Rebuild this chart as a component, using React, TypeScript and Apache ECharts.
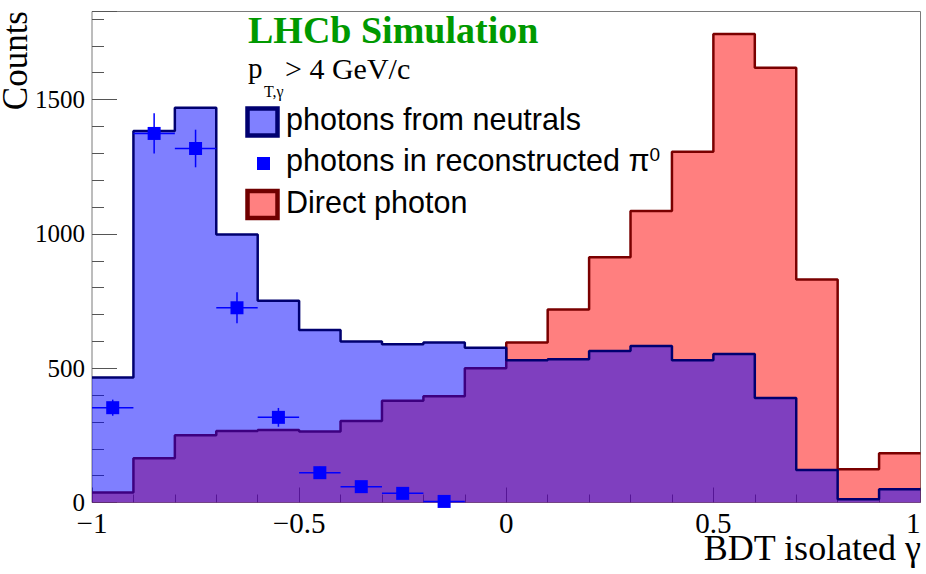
import React, { useEffect, useRef } from "react";
import * as echarts from "echarts";

// ---- data ----
const binEdges = [
  -1, -0.9, -0.8, -0.7, -0.6, -0.5, -0.4, -0.3, -0.2, -0.1, 0,
  0.1, 0.2, 0.3, 0.4, 0.5, 0.6, 0.7, 0.8, 0.9, 1,
];
const neutralsCounts = [
  465, 1383, 1470, 998, 751, 642, 599, 589, 596, 576,
  530, 533, 564, 583, 530, 553, 389, 121, 12, 49,
];
const directCounts = [
  37, 165, 250, 266, 270, 264, 303, 379, 396, 500,
  596, 719, 913, 1085, 1306, 1744, 1619, 830, 124, 183,
];
const pi0Centers = [-0.95, -0.85, -0.75, -0.65, -0.55, -0.45, -0.35, -0.25, -0.15];
const pi0Counts = [353, 1374, 1318, 725, 317, 111, 59, 34, 4];
const pi0Errors = [30, 75, 70, 58, 35, 22, 16, 12, 5];
const pi0HalfWidth = 0.05;

const X_MIN = -1;
const X_MAX = 1;
const Y_MIN = 0;
const Y_MAX = 1828;

const SERIF = "'Liberation Serif', 'DejaVu Serif', serif";
const SANS = "'Liberation Sans', Arial, sans-serif";

function stepData(values: number[]) {
  const pts: number[][] = values.map((v, i) => [binEdges[i], v]);
  pts.push([binEdges[values.length], values[values.length - 1]]);
  return pts;
}

const fmtMinus = (v: number) => String(v).replace("-", "\u2212");

export default function App() {
  const ref = useRef<HTMLDivElement>(null);

  useEffect(() => {
    if (!ref.current) return;
    const chart = echarts.init(ref.current, null, { renderer: "svg" });

    const pi0Data = pi0Centers.map((c, i) => [c, pi0Counts[i], pi0Errors[i]]);

    const txt = (extra: any) => ({
      fill: "#000",
      align: "left",
      textAlign: "left",
      verticalAlign: "middle",
      textVerticalAlign: "middle",
      ...extra,
    });

    const option: any = {
      animation: false,
      backgroundColor: "#ffffff",
      grid: {
        left: 92,
        right: 5.5,
        top: 11.5,
        bottom: 71.5,
        show: true,
        borderColor: "#7a7a7a",
        borderWidth: 1,
        backgroundColor: "transparent",
      },
      xAxis: {
        type: "value",
        min: X_MIN,
        max: X_MAX,
        interval: 0.5,
        axisLine: { show: false, onZero: false },
        splitLine: { show: false },
        axisTick: { show: true, inside: true, length: 15, lineStyle: { color: "#555", width: 1 } },
        minorTick: { show: true, splitNumber: 5, length: 8, lineStyle: { color: "#555", width: 1 } },
        minorSplitLine: { show: false },
        axisLabel: {
          margin: 6,
          fontFamily: SERIF,
          fontSize: 29,
          color: "#000",
          formatter: (v: number) => fmtMinus(v),
          alignMaxLabel: "right",
        },
      },
      yAxis: [
        {
          type: "value",
          position: "left",
          offset: 0,
          min: Y_MIN,
          max: Y_MAX,
          interval: 100,
          axisLine: { show: false, onZero: false },
          splitLine: { show: false },
          axisTick: { show: true, inside: true, length: 12, lineStyle: { color: "#555", width: 1 } },
          axisLabel: { show: false },
        },
        {
          type: "value",
          position: "left",
          offset: 0,
          min: Y_MIN,
          max: Y_MAX,
          interval: 500,
          axisLine: { show: false, onZero: false },
          splitLine: { show: false },
          axisTick: { show: true, inside: true, length: 25, lineStyle: { color: "#555", width: 1 } },
          axisLabel: {
            margin: 7,
            fontFamily: SERIF,
            fontSize: 25,
            color: "#000",
            formatter: (v: number) => (v % 500 === 0 ? String(v) : ""),
          },
        },
      ],
      series: [
        {
          name: "Direct photon",
          type: "line",
          step: "end",
          symbol: "none",
          showSymbol: false,
          data: stepData(directCounts),
          lineStyle: { color: "#7a0000", width: 2.5 },
          areaStyle: { color: "rgba(255,0,0,0.5)", opacity: 1 },
          z: 2,
        },
        {
          name: "photons from neutrals",
          type: "line",
          step: "end",
          symbol: "none",
          showSymbol: false,
          data: stepData(neutralsCounts),
          lineStyle: { color: "#000070", width: 2.5 },
          areaStyle: { color: "rgba(0,0,255,0.5)", opacity: 1 },
          z: 3,
        },
        {
          name: "photons in reconstructed pi0",
          type: "custom",
          data: pi0Data,
          encode: { x: 0, y: 1 },
          z: 4,
          renderItem: (params: any, api: any) => {
            const x = api.value(0);
            const y = api.value(1);
            const e = api.value(2);
            const c = api.coord([x, y]);
            const l = api.coord([x - pi0HalfWidth, y]);
            const r = api.coord([x + pi0HalfWidth, y]);
            const t = api.coord([x, y + e]);
            const b = api.coord([x, Math.max(0, y - e)]);
            const s = 13;
            return {
              type: "group",
              children: [
                { type: "line", shape: { x1: l[0], y1: l[1], x2: r[0], y2: r[1] }, style: { stroke: "#0000ff", lineWidth: 1.5 } },
                { type: "line", shape: { x1: t[0], y1: t[1], x2: b[0], y2: b[1] }, style: { stroke: "#0000ff", lineWidth: 1.5 } },
                { type: "rect", shape: { x: c[0] - s / 2, y: c[1] - s / 2, width: s, height: s }, style: { fill: "#0000ff" } },
              ],
            };
          },
        },
      ],
      graphic: [
        // y-axis title
        {
          type: "text",
          x: 15,
          y: 11,
          rotation: Math.PI / 2,
          style: txt({
            text: "Counts",
            fontFamily: SERIF,
            fontSize: 35,
            align: "right",
            textAlign: "right",
          }),
        },
        // x-axis title
        {
          type: "text",
          x: 921,
          y: 548,
          style: txt({
            text: "BDT isolated \u03b3",
            fontFamily: SERIF,
            fontSize: 36,
            align: "right",
            textAlign: "right",
          }),
        },
        // LHCb Simulation
        {
          type: "text",
          x: 248,
          y: 29.5,
          style: txt({
            text: "LHCb Simulation",
            fontFamily: SERIF,
            fontWeight: "bold",
            fontSize: 38,
            fill: "#009900",
          }),
        },
        // p_T,gamma > 4 GeV/c
        {
          type: "text",
          x: 248,
          y: 68,
          style: txt({ text: "p", fontFamily: SERIF, fontSize: 29 }),
        },
        {
          type: "text",
          x: 264,
          y: 91.5,
          style: txt({ text: "T,\u03b3", fontFamily: SERIF, fontSize: 16 }),
        },
        {
          type: "text",
          x: 285,
          y: 68,
          style: txt({ text: "> 4 GeV/c", fontFamily: SERIF, fontSize: 30 }),
        },
        // legend entry 1
        {
          type: "rect",
          shape: { x: 247.5, y: 108.5, width: 30, height: 27 },
          style: { fill: "#8080ff", stroke: "#000070", lineWidth: 4.5 },
        },
        {
          type: "text",
          x: 286,
          y: 119,
          style: txt({ text: "photons from neutrals", fontFamily: SANS, fontSize: 30.5 }),
        },
        // legend entry 2
        {
          type: "rect",
          shape: { x: 257, y: 157, width: 13, height: 13 },
          style: { fill: "#0000ff" },
        },
        {
          type: "text",
          x: 286,
          y: 160,
          style: txt({
            text: "{a|photons in reconstructed \u03c0}{s|0}",
            fontFamily: SANS,
            fontSize: 30.5,
            rich: {
              a: { fontFamily: SANS, fontSize: 30.5, fill: "#000", color: "#000" },
              s: { fontFamily: SANS, fontSize: 19, fill: "#000", color: "#000", verticalAlign: "top" },
            },
          }),
        },
        // legend entry 3
        {
          type: "rect",
          shape: { x: 247.5, y: 191, width: 30, height: 27 },
          style: { fill: "#ff8080", stroke: "#700000", lineWidth: 4.5 },
        },
        {
          type: "text",
          x: 286,
          y: 202,
          style: txt({ text: "Direct photon", fontFamily: SANS, fontSize: 30.5 }),
        },
      ],
    };

    chart.setOption(option);
    return () => {
      chart.dispose();
    };
  }, []);

  return (
    <div
      ref={ref}
      style={{ position: "fixed", left: 0, top: 0, width: 926, height: 574, background: "#fff" }}
    />
  );
}
